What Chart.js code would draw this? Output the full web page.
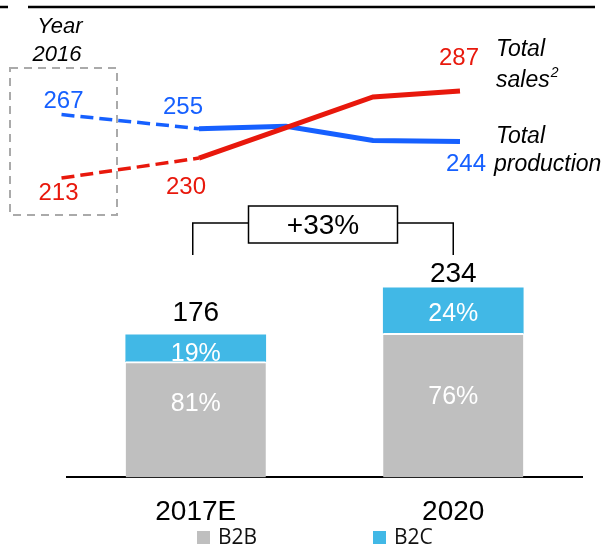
<!DOCTYPE html>
<html><head><meta charset="utf-8">
<script src="https://cdn.jsdelivr.net/npm/chart.js@4/dist/chart.umd.min.js"></script>
<style>
html,body{margin:0;padding:0;background:#fff;overflow:hidden;width:608px;height:547px}
#wrapBar{position:absolute;left:0;top:0;width:608px;height:547px}
#wrapLine{position:absolute;left:0;top:0;width:608px;height:230px}
</style></head><body>
<div id="wrapBar"><canvas id="bar"></canvas></div>
<div id="wrapLine"><canvas id="line"></canvas></div>
<script>
// ---------- data ----------
const years = ['2016', '2017', '2018', '2019', '2020'];
// horizontal placement of the yearly points (2016 is shown apart, in its own box)
const linePos = [2015.42, 2017, 2018, 2019, 2020];
const totalSales = [213, 230, 256, 282, 287];
const totalProduction = [267, 255, 257, 245, 244];
const labelledPoints = [0, 1, 4];

const barCategories = ['2017E', '2020'];
const b2b = [143, 178];
const b2c = [33, 56];
const totals = [176, 234];
const b2bShare = ['81%', '76%'];
const b2cShare = ['19%', '24%'];
const growthLabel = '+33%';

// ---------- styles ----------
const RED = '#e8180c', BLUE = '#1660ff', GRAY = '#bfbfbf', CYAN = '#41b8e6';
const SANS = '"Liberation Sans", Arial, sans-serif';
const salesLabelOffset = {0: [-3, 15], 1: [-13, 29], 4: [-1, -33]};
const prodLabelOffset = {0: [2, -13], 1: [-16, -21], 4: [6, 23]};

const seg = {
  borderDash: c => c.p0DataIndex === 0 ? [13, 6] : undefined,
  borderWidth: c => c.p0DataIndex === 0 ? 3.5 : 5
};

const lineDecor = {
  id: 'lineDecor',
  beforeDatasetsDraw(chart) {
    const ctx = chart.ctx;
    ctx.save();
    // top rule
    ctx.strokeStyle = '#000'; ctx.lineWidth = 2.5;
    ctx.beginPath(); ctx.moveTo(0, 7); ctx.lineTo(8, 7); ctx.moveTo(28, 7); ctx.lineTo(595, 7); ctx.stroke();
    // dashed box around 2016
    ctx.strokeStyle = '#aaaaaa'; ctx.lineWidth = 2; ctx.setLineDash([8, 6]);
    ctx.strokeRect(10, 68, 107, 147);
    ctx.setLineDash([]);
    // Year 2016
    ctx.fillStyle = '#000'; ctx.textAlign = 'center'; ctx.textBaseline = 'middle';
    ctx.font = 'italic 22px ' + SANS;
    ctx.fillText('Year', 60, 27);
    ctx.fillText(years[0], 57, 55);
    ctx.restore();
  },
  afterDatasetsDraw(chart) {
    const ctx = chart.ctx;
    ctx.save();
    ctx.textAlign = 'center'; ctx.textBaseline = 'middle';
    ctx.font = '24px ' + SANS;
    const s = chart.getDatasetMeta(0).data, p = chart.getDatasetMeta(1).data;
    labelledPoints.forEach(i => {
      ctx.fillStyle = RED;
      ctx.fillText(String(totalSales[i]), s[i].x + salesLabelOffset[i][0], s[i].y + salesLabelOffset[i][1]);
      ctx.fillStyle = BLUE;
      ctx.fillText(String(totalProduction[i]), p[i].x + prodLabelOffset[i][0], p[i].y + prodLabelOffset[i][1]);
    });
    // series names
    ctx.fillStyle = '#000'; ctx.textAlign = 'left';
    ctx.font = 'italic 23px ' + SANS;
    ctx.fillText('Total', 496, 50);
    ctx.fillText('sales', 496, 81);
    const w = ctx.measureText('sales').width;
    ctx.font = 'italic 14px ' + SANS;
    ctx.fillText('2', 496 + w + 1, 73);
    ctx.font = 'italic 23px ' + SANS;
    ctx.fillText('Total', 496, 137);
    ctx.fillText('production', 494, 165);
    ctx.restore();
  }
};

new Chart(document.getElementById('line'), {
  type: 'line',
  data: {
    datasets: [
      {label: 'Total sales', data: linePos.map((x, i) => ({x, y: totalSales[i]})),
       borderColor: RED, borderWidth: 5, pointRadius: 0, segment: seg, borderCapStyle: 'butt'},
      {label: 'Total production', data: linePos.map((x, i) => ({x, y: totalProduction[i]})),
       borderColor: BLUE, borderWidth: 5, pointRadius: 0, segment: seg, borderCapStyle: 'butt'}
    ]
  },
  options: {
    responsive: true, maintainAspectRatio: false, animation: false, events: [],
    layout: {padding: 0},
    plugins: {legend: {display: false}, tooltip: {enabled: false}},
    scales: {
      x: {type: 'linear', display: false, min: 2014.713, max: 2021.701},
      y: {type: 'linear', display: false, min: 168.8, max: 364.5}
    }
  },
  plugins: [lineDecor]
});

// ---------- bar chart ----------
const totalGap = [22, 14];
const b2cShift = [6, 4];
const b2bShift = [-15, -8];

const barDecor = {
  id: 'barDecor',
  afterDatasetsDraw(chart) {
    const ctx = chart.ctx;
    const m0 = chart.getDatasetMeta(0).data, m1 = chart.getDatasetMeta(1).data;
    ctx.save();
    ctx.textAlign = 'center'; ctx.textBaseline = 'middle';
    for (let i = 0; i < totals.length; i++) {
      ctx.fillStyle = '#fff'; ctx.font = '25px ' + SANS;
      ctx.fillText(b2bShare[i], m0[i].x, (m0[i].y + m0[i].base) / 2 + b2bShift[i]);
      ctx.fillText(b2cShare[i], m1[i].x, (m1[i].y + m1[i].base) / 2 + b2cShift[i]);
      ctx.fillStyle = '#000'; ctx.font = '28px ' + SANS;
      ctx.fillText(String(totals[i]), m1[i].x, m1[i].y - totalGap[i]);
    }
    // growth bracket
    const xL = m1[0].x - 3, xR = m1[1].x, xc = (xL + xR) / 2;
    ctx.strokeStyle = '#000'; ctx.lineWidth = 1.5;
    ctx.beginPath();
    ctx.moveTo(xL, 255); ctx.lineTo(xL, 223); ctx.lineTo(xR, 223); ctx.lineTo(xR, 255);
    ctx.stroke();
    ctx.fillStyle = '#fff';
    ctx.fillRect(xc - 74.5, 206, 149, 37);
    ctx.strokeRect(xc - 74.5, 206, 149, 37);
    ctx.fillStyle = '#000'; ctx.font = '28px ' + SANS;
    ctx.fillText(growthLabel, xc, 226);
    // legend
    ctx.font = '21px "Open Sans", sans-serif';
    ctx.textAlign = 'left';
    chart.data.datasets.forEach((ds, k) => {
      const x0 = 197 + k * 176;
      ctx.fillStyle = ds.backgroundColor;
      ctx.fillRect(x0, 531, 13, 13);
      ctx.fillStyle = '#111';
      ctx.fillText(ds.label, x0 + 21, 538);
    });
    ctx.restore();
  }
};

new Chart(document.getElementById('bar'), {
  type: 'bar',
  data: {
    labels: barCategories,
    datasets: [
      {label: 'B2B', data: b2b, backgroundColor: GRAY, borderColor: '#fff',
       borderWidth: {top: 2, left: 0, right: 0, bottom: 0}, borderSkipped: false, barThickness: 140},
      {label: 'B2C', data: b2c, backgroundColor: CYAN, borderWidth: 0, barThickness: 140}
    ]
  },
  options: {
    responsive: true, maintainAspectRatio: false, animation: false, events: [],
    layout: {padding: {left: 67, right: 26, top: 200, bottom: 0}},
    plugins: {legend: {display: false}, tooltip: {enabled: false}},
    scales: {
      x: {stacked: true, grid: {display: false, drawTicks: false},
          border: {display: true, color: '#000', width: 2},
          ticks: {color: '#000', font: {family: SANS, size: 28}, padding: 18}},
      y: {stacked: true, display: false, min: 0, max: 342.5}
    }
  },
  plugins: [barDecor]
});
</script>
</body></html>
